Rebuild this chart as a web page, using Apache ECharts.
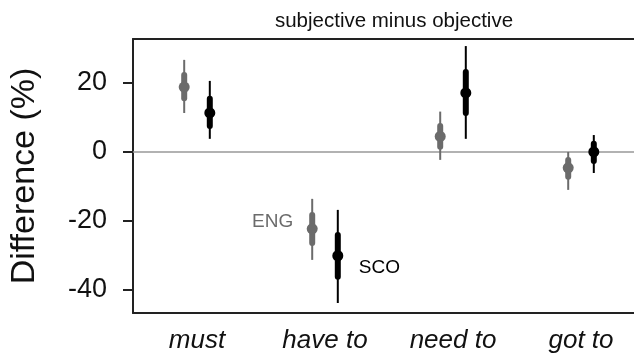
<!DOCTYPE html>
<html>
<head>
<meta charset="utf-8">
<script src="https://cdn.jsdelivr.net/npm/echarts@6/dist/echarts.min.js"></script>
<style>
  html, body { margin: 0; padding: 0; background: #fff; }
  #chart { width: 634px; height: 355px; }
</style>
</head>
<body>
<div id="chart"></div>
<script>
// 类别
const categories = ['must', 'have to', 'need to', 'got to']
const yTicks = [-40, -20, 0, 20]

// ENG: [中心, 95%下, 95%上, 50%下, 50%上]
const engMid = [18.8, -22.3, 4.5, -4.6]
const engLo95 = [11.3, -31.3, -2.3, -11.0]
const engHi95 = [26.7, -13.6, 11.7, 0.0]
const engLo50 = [15.6, -26.4, 1.5, -7.2]
const engHi50 = [22.3, -18.3, 7.5, -2.3]

// SCO
const scoMid = [11.3, -30.1, 17.1, 0.0]
const scoLo95 = [3.8, -43.8, 3.8, -6.1]
const scoHi95 = [20.6, -16.8, 30.7, 4.9]
const scoLo50 = [7.5, -36.2, 11.3, -2.6]
const scoHi50 = [15.4, -24.1, 23.2, 2.4]

const font = '"Liberation Sans", Arial, Helvetica, sans-serif'

const build = (mid, lo95, hi95, lo50, hi50) =>
  categories.map((c, i) => [i, mid[i], lo95[i], hi95[i], lo50[i], hi50[i]])

// 画点+误差线
const makeSeries = (name, color, data, offset, labelCfg) => ({
  name: name,
  type: 'custom',
  z: 3,
  data: data,
  encode: { x: 0, y: [1, 2, 3, 4, 5] },
  renderItem: (params, api) => {
    const band = api.size([1, 0])[0]
    const x = api.coord([api.value(0), 0])[0] + band * offset
    const yMid = api.coord([0, api.value(1)])[1]
    const y95a = api.coord([0, api.value(2)])[1]
    const y95b = api.coord([0, api.value(3)])[1]
    const y50a = api.coord([0, api.value(4)])[1]
    const y50b = api.coord([0, api.value(5)])[1]
    const children = [
      { type: 'line', shape: { x1: x, y1: y95a, x2: x, y2: y95b }, style: { stroke: color, lineWidth: 2 } },
      { type: 'line', shape: { x1: x, y1: y50a, x2: x, y2: y50b }, style: { stroke: color, lineWidth: 6, lineCap: 'round' } },
      { type: 'circle', shape: { cx: x, cy: yMid, r: 5.5 }, style: { fill: color } }
    ]
    // 系列名标注在 have to 旁边
    if (params.dataIndex === 1) {
      children.push({
        type: 'text',
        style: {
          text: name,
          x: x + labelCfg.dx,
          y: yMid + labelCfg.dy,
          fill: color,
          font: '19px ' + font,
          align: labelCfg.align,
          verticalAlign: 'middle'
        }
      })
    }
    return { type: 'group', children: children }
  }
})

const myChart = echarts.init(document.getElementById('chart'))

const options = {
  animation: false,
  title: {
    text: 'subjective minus objective',
    left: 389,
    top: 6,
    textAlign: 'center',
    textStyle: { fontFamily: font, fontSize: 20.5, fontWeight: 'normal', color: '#111' }
  },
  grid: {
    left: 133,
    width: 512,
    top: 39,
    bottom: 42,
    outerBoundsMode: 'none' // 右边框在画面外
  },
  xAxis: [{
    type: 'category',
    data: categories,
    boundaryGap: true,
    axisLine: { show: true, onZero: false, lineStyle: { color: '#222', width: 2 } },
    axisTick: { show: false },
    axisLabel: { margin: 15, fontFamily: font, fontSize: 26, fontStyle: 'italic', color: '#111' }
  }, {
    // 上边框
    type: 'category',
    data: categories,
    position: 'top',
    axisLine: { show: true, onZero: false, lineStyle: { color: '#222', width: 2 } },
    axisTick: { show: false },
    axisLabel: { show: false }
  }],
  yAxis: {
    type: 'value',
    min: -46.7,
    max: 32.75,
    name: 'Difference (%)',
    nameLocation: 'middle',
    nameGap: 91,
    nameTextStyle: { fontFamily: font, fontSize: 34, color: '#111' },
    axisLine: { show: true, onZero: false, lineStyle: { color: '#222', width: 2 } },
    axisTick: { show: true, length: 10, customValues: yTicks, lineStyle: { color: '#222', width: 2 } },
    axisLabel: { margin: 26, customValues: yTicks, fontFamily: font, fontSize: 27, color: '#111' },
    splitLine: { show: false }
  },
  series: [
    Object.assign(makeSeries('ENG', '#6b6b6b', build(engMid, engLo95, engHi95, engLo50, engHi50), -0.1,
      { dx: -19, dy: -7, align: 'right' }), {
      markLine: {
        silent: true,
        z: 1,
        symbol: 'none',
        label: { show: false },
        lineStyle: { color: '#999', width: 1.5, type: 'solid' },
        data: [{ yAxis: 0 }]
      }
    }),
    makeSeries('SCO', '#000', build(scoMid, scoLo95, scoHi95, scoLo50, scoHi50), 0.1,
      { dx: 21, dy: 12, align: 'left' })
  ]
}
myChart.setOption(options)
</script>
</body>
</html>
